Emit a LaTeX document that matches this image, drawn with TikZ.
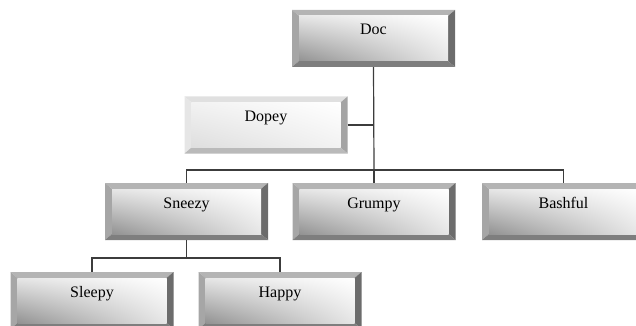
\documentclass[tikz,border=0pt]{standalone}
\usepackage{fontspec}
\setmainfont{Liberation Serif}
\usetikzlibrary{shadings}
\definecolor{bvT}{HTML}{B4B4B4}
\definecolor{bvL}{HTML}{A6A6A6}
\definecolor{bvR}{HTML}{6C6C6C}
\definecolor{bvB}{HTML}{7E7E7E}
\definecolor{shD}{HTML}{929292}
\definecolor{shL}{HTML}{E6E6E6}
\definecolor{asT}{HTML}{E0E0E0}
\definecolor{asL}{HTML}{E6E6E6}
\definecolor{asR}{HTML}{A4A4A4}
\definecolor{asB}{HTML}{BABABA}
\definecolor{asD}{HTML}{DEDEDE}
\definecolor{asS}{HTML}{F2F2F2}
\definecolor{lineC}{HTML}{3C3C3C}
\tikzset{
  bevelbox/.style n args={6}{rectangle, minimum width=163pt, minimum height=57pt,
    inner sep=0pt, text height=11pt, text depth=18pt,
    font=\fontsize{16}{16}\selectfont,
    path picture={
      \path (path picture bounding box.north west) coordinate (pNW)
            (path picture bounding box.north east) coordinate (pNE)
            (path picture bounding box.south west) coordinate (pSW)
            (path picture bounding box.south east) coordinate (pSE);
      \path ([shift={(7pt,-6pt)}]pNW) coordinate (iNW)
            ([shift={(-7pt,-6pt)}]pNE) coordinate (iNE)
            ([shift={(7pt,6pt)}]pSW) coordinate (iSW)
            ([shift={(-7pt,6pt)}]pSE) coordinate (iSE);
      \fill[#1] (pNW) -- (pNE) -- (iNE) -- (iNW) -- cycle;
      \fill[#2] (pNW) -- (iNW) -- (iSW) -- (pSW) -- cycle;
      \fill[#3] (pNE) -- (pSE) -- (iSE) -- (iNE) -- cycle;
      \fill[#4] (pSW) -- (iSW) -- (iSE) -- (pSE) -- cycle;
      \shade[upper right=white, upper left=#6, lower left=#5, lower right=#6] (iNW) rectangle (iSE);
    }},
  chartbox/.style={bevelbox={bvT}{bvL}{bvR}{bvB}{shD}{shL}},
  assistbox/.style={bevelbox={asT}{asL}{asR}{asB}{asD}{asS}},
  conn/.style={draw=lineC, line width=1.2pt}
}
\begin{document}
\begin{tikzpicture}[x=1pt,y=-1pt]
\path[use as bounding box, clip] (0,0) rectangle (636,326);
\node[chartbox] (doc) at (373.5,38.5) {Doc};
\node[assistbox] (dopey) at (266,125) {Dopey};
\node[chartbox] (sneezy) at (186.5,211.5) {Sneezy};
\node[chartbox] (grumpy) at (374,211.5) {Grumpy};
\node[chartbox] (bashful) at (563.5,211.5) {Bashful};
\node[chartbox] (sleepy) at (92,300.5) {Sleepy};
\node[chartbox] (happy) at (280,300.5) {Happy};
\coordinate (b1) at (374,170);
\coordinate (b2) at (186.5,258);
\draw[conn] (doc.south) -- (b1);
\draw[conn] (dopey.east) -- (dopey.east -| b1);
\draw[conn] (sneezy.north) |- (b1);
\draw[conn] (grumpy.north) -- (b1);
\draw[conn] (bashful.north) |- (b1);
\draw[conn] (sneezy.south) -- (b2);
\draw[conn] (sleepy.north) |- (b2);
\draw[conn] (happy.north) |- (b2);
\end{tikzpicture}
\end{document}
